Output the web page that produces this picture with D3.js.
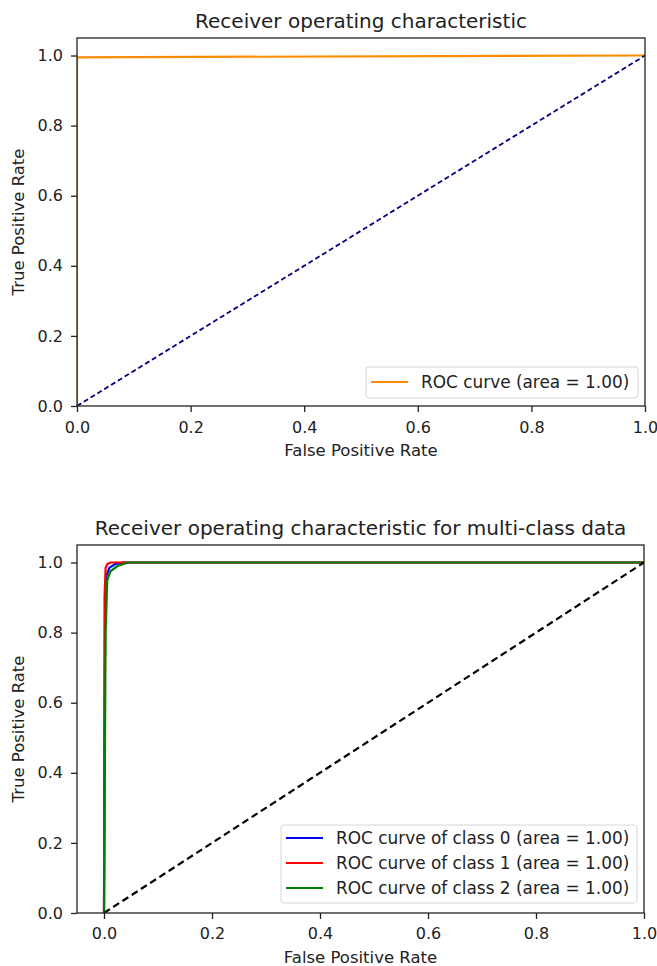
<!DOCTYPE html>
<html><head><meta charset="utf-8">
<script src="https://cdn.jsdelivr.net/npm/d3@7"></script>
<style>
body{margin:0;background:#fff;}
svg{display:block;font-family:"DejaVu Sans",sans-serif;}
.axis text{font-size:16px;fill:#222;font-family:"DejaVu Sans",sans-serif;}
.axis path,.axis line{stroke:#222;stroke-width:1.3;}
</style></head>
<body>
<script>
// ---- data ----
const ticks = [0.0, 0.2, 0.4, 0.6, 0.8, 1.0];
const tickLabels = ["0.0", "0.2", "0.4", "0.6", "0.8", "1.0"];
// Chart 1: binary ROC
const roc1Fpr = [0, 0, 1];
const roc1Tpr = [0, 0.995, 1];
const roc1Label = "ROC curve (area = 1.00)";
const diag = [[0, 0], [1, 1]];
// Chart 2: multi-class ROC
const classNames = ["ROC curve of class 0 (area = 1.00)", "ROC curve of class 1 (area = 1.00)", "ROC curve of class 2 (area = 1.00)"];
const classColors = ["blue", "red", "green"];
const class0Fpr = [0, 0.002, 0.004, 0.01, 0.02, 0.035, 1];
const class0Tpr = [0, 0.85, 0.96, 0.985, 0.995, 1, 1];
const class1Fpr = [0, 0.001, 0.003, 0.006, 0.012, 1];
const class1Tpr = [0, 0.9, 0.985, 0.995, 1, 1];
const class2Fpr = [0, 0.003, 0.006, 0.012, 0.025, 0.045, 1];
const class2Tpr = [0, 0.8, 0.95, 0.975, 0.99, 1, 1];

const W = 657, H = 966;
const svg = d3.select("body").append("svg").attr("width", W).attr("height", H);

function panel(cfg) {
  const x = d3.scaleLinear().domain(cfg.xDomain).range([cfg.left, cfg.right]);
  const y = d3.scaleLinear().domain([0, 1.05]).range([cfg.bottom, cfg.top]);
  const g = svg.append("g");
  const clipId = "clip" + cfg.id;
  g.append("clipPath").attr("id", clipId).append("rect")
    .attr("x", cfg.left).attr("y", cfg.top).attr("width", cfg.right - cfg.left).attr("height", cfg.bottom - cfg.top);
  const plot = g.append("g").attr("clip-path", `url(#${clipId})`);
  const line = d3.line().x(d => x(d[0])).y(d => y(d[1]));
  cfg.series.forEach(s => {
    plot.append("path").datum(d3.zip(s.fpr, s.tpr)).attr("d", line)
      .attr("fill", "none").attr("stroke", s.color).attr("stroke-width", s.width)
      .attr("stroke-dasharray", s.dash || null);
  });
  // axes
  const xa = g.append("g").attr("class", "axis").attr("transform", `translate(0,${cfg.bottom})`)
    .call(d3.axisBottom(x).tickValues(ticks).tickFormat((d, i) => tickLabels[i]).tickSize(6).tickPadding(cfg.xPad).tickSizeOuter(0));
  const ya = g.append("g").attr("class", "axis").attr("transform", `translate(${cfg.left},0)`)
    .call(d3.axisLeft(y).tickValues(ticks).tickFormat((d, i) => tickLabels[i]).tickSize(6).tickPadding(8).tickSizeOuter(0));
  xa.select(".domain").remove(); ya.select(".domain").remove();
  g.append("rect").attr("x", cfg.left).attr("y", cfg.top).attr("width", cfg.right - cfg.left).attr("height", cfg.bottom - cfg.top)
    .attr("fill", "none").attr("stroke", "#222").attr("stroke-width", 1.3);
  // labels
  g.append("text").attr("x", (cfg.left + cfg.right) / 2).attr("y", cfg.top - 10).attr("text-anchor", "middle")
    .attr("font-size", 20).attr("fill", "#222").text(cfg.title);
  g.append("text").attr("x", (cfg.left + cfg.right) / 2).attr("y", cfg.bottom + 50).attr("text-anchor", "middle")
    .attr("font-size", 16.5).attr("fill", "#222").text("False Positive Rate");
  g.append("text").attr("transform", `translate(24,${(cfg.top + cfg.bottom) / 2}) rotate(-90)`).attr("text-anchor", "middle")
    .attr("font-size", 16.5).attr("fill", "#222").text("True Positive Rate");
  // legend
  const L = cfg.legend;
  const lg = g.append("g");
  lg.append("rect").attr("x", L.x).attr("y", L.y).attr("width", L.w).attr("height", L.h).attr("rx", 3)
    .attr("fill", "rgba(255,255,255,0.8)").attr("stroke", "#d6d6d6").attr("stroke-width", 1);
  L.items.forEach((it, i) => {
    const cy = L.y + L.pad + i * L.step;
    lg.append("line").attr("x1", L.x + 5).attr("x2", L.x + 42).attr("y1", cy).attr("y2", cy)
      .attr("stroke", it.color).attr("stroke-width", 2.2);
    lg.append("text").attr("x", L.x + 55).attr("y", cy + 6).attr("font-size", 16.9).attr("fill", "#222").text(it.label);
  });
}

panel({
  id: 1, left: 77, right: 645, top: 38, bottom: 406, xDomain: [0, 1], xPad: 10,
  title: "Receiver operating characteristic",
  series: [
    { fpr: roc1Fpr, tpr: roc1Tpr, color: "darkorange", width: 2.2 },
    { fpr: diag.map(d => d[0]), tpr: diag.map(d => d[1]), color: "navy", width: 1.8, dash: "5,3" }
  ],
  legend: { x: 366, y: 367, w: 272, h: 31, pad: 15, step: 25, items: [{ color: "darkorange", label: roc1Label }] }
});

panel({
  id: 2, left: 77, right: 644, top: 545, bottom: 913, xDomain: [-0.05, 1.0], xPad: 9,
  title: "Receiver operating characteristic for multi-class data",
  series: [
    { fpr: class0Fpr, tpr: class0Tpr, color: classColors[0], width: 2.2 },
    { fpr: class1Fpr, tpr: class1Tpr, color: classColors[1], width: 2.2 },
    { fpr: class2Fpr, tpr: class2Tpr, color: classColors[2], width: 2.2 },
    { fpr: diag.map(d => d[0]), tpr: diag.map(d => d[1]), color: "black", width: 2.2, dash: "7,4" }
  ],
  legend: { x: 281, y: 825, w: 356, h: 78, pad: 13, step: 25,
    items: classNames.map((n, i) => ({ color: classColors[i], label: n })) }
});
</script>
</body></html>
